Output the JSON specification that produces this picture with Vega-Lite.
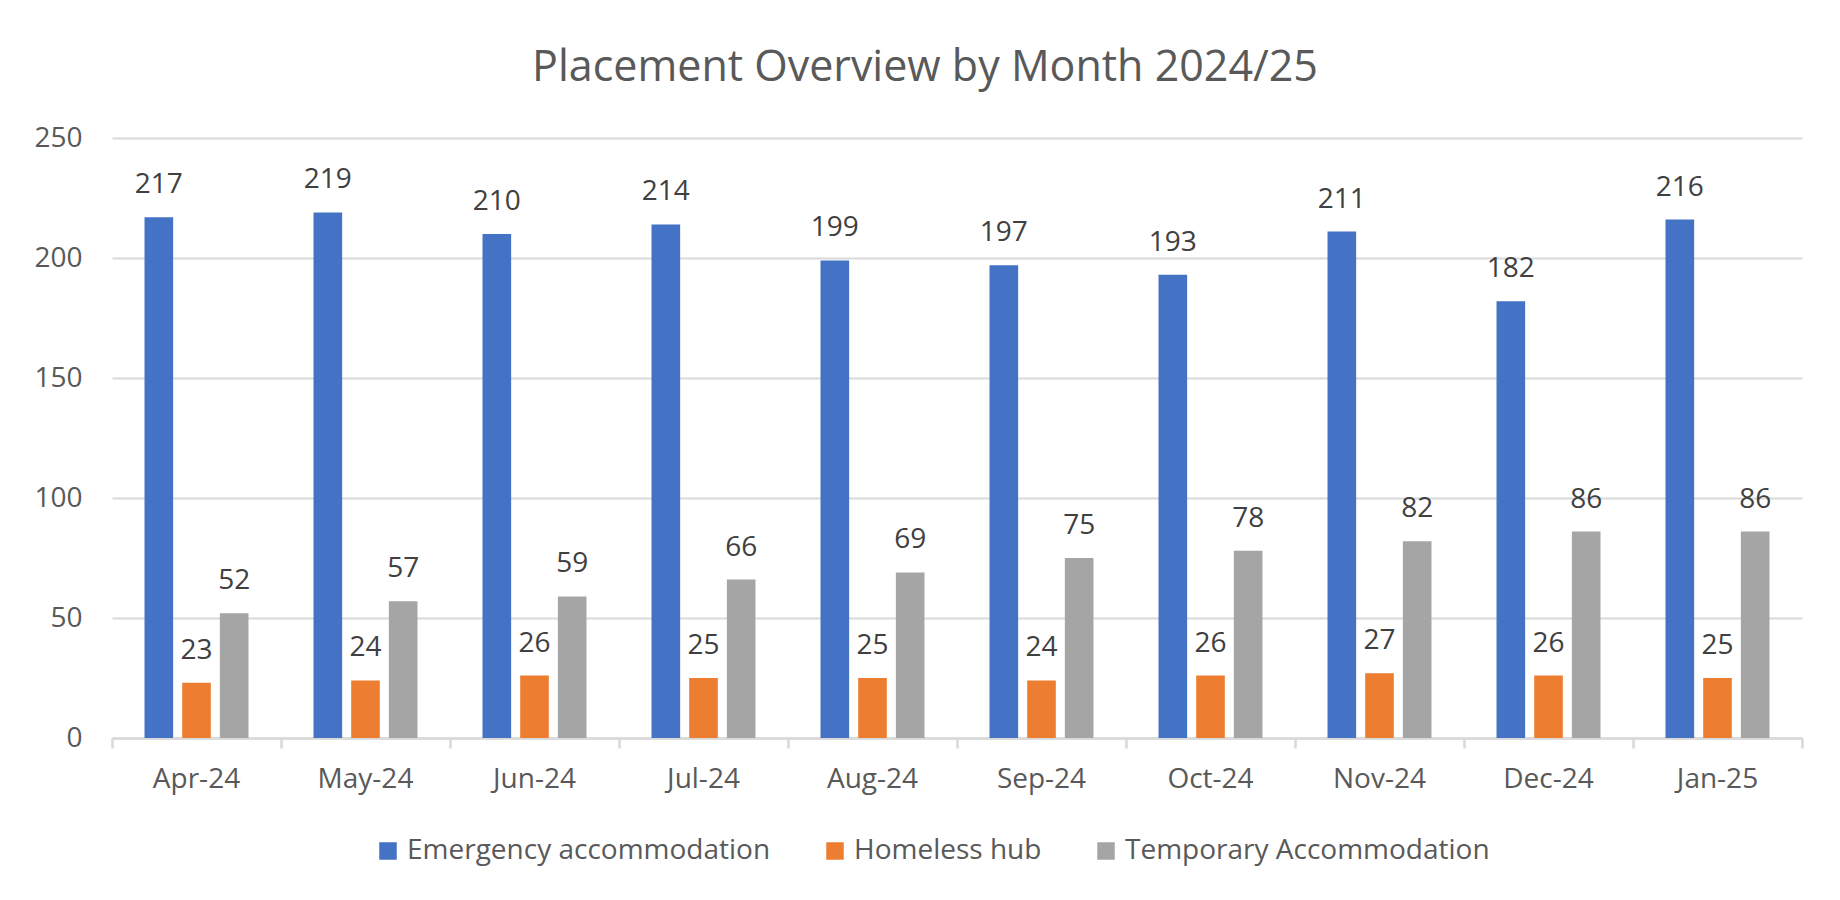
{
  "$schema": "https://vega.github.io/schema/vega-lite/v6.json",
  "width": 1690,
  "height": 600,
  "autosize": {"type": "none"},
  "padding": {"left": 112, "top": 138, "right": 38, "bottom": 162},
  "background": "white",
  "title": {
    "text": "Placement Overview by Month 2024/25",
    "font": "Open Sans",
    "fontSize": 43,
    "fontWeight": "normal",
    "color": "#595959",
    "anchor": "middle",
    "baseline": "alphabetic",
    "dx": -32,
    "offset": 0
  },
  "data": {
    "values": [
      {"month": "Apr-24", "series": "Emergency accommodation", "value": 217},
      {"month": "Apr-24", "series": "Homeless hub", "value": 23},
      {"month": "Apr-24", "series": "Temporary Accommodation", "value": 52},
      {"month": "May-24", "series": "Emergency accommodation", "value": 219},
      {"month": "May-24", "series": "Homeless hub", "value": 24},
      {"month": "May-24", "series": "Temporary Accommodation", "value": 57},
      {"month": "Jun-24", "series": "Emergency accommodation", "value": 210},
      {"month": "Jun-24", "series": "Homeless hub", "value": 26},
      {"month": "Jun-24", "series": "Temporary Accommodation", "value": 59},
      {"month": "Jul-24", "series": "Emergency accommodation", "value": 214},
      {"month": "Jul-24", "series": "Homeless hub", "value": 25},
      {"month": "Jul-24", "series": "Temporary Accommodation", "value": 66},
      {"month": "Aug-24", "series": "Emergency accommodation", "value": 199},
      {"month": "Aug-24", "series": "Homeless hub", "value": 25},
      {"month": "Aug-24", "series": "Temporary Accommodation", "value": 69},
      {"month": "Sep-24", "series": "Emergency accommodation", "value": 197},
      {"month": "Sep-24", "series": "Homeless hub", "value": 24},
      {"month": "Sep-24", "series": "Temporary Accommodation", "value": 75},
      {"month": "Oct-24", "series": "Emergency accommodation", "value": 193},
      {"month": "Oct-24", "series": "Homeless hub", "value": 26},
      {"month": "Oct-24", "series": "Temporary Accommodation", "value": 78},
      {"month": "Nov-24", "series": "Emergency accommodation", "value": 211},
      {"month": "Nov-24", "series": "Homeless hub", "value": 27},
      {"month": "Nov-24", "series": "Temporary Accommodation", "value": 82},
      {"month": "Dec-24", "series": "Emergency accommodation", "value": 182},
      {"month": "Dec-24", "series": "Homeless hub", "value": 26},
      {"month": "Dec-24", "series": "Temporary Accommodation", "value": 86},
      {"month": "Jan-25", "series": "Emergency accommodation", "value": 216},
      {"month": "Jan-25", "series": "Homeless hub", "value": 25},
      {"month": "Jan-25", "series": "Temporary Accommodation", "value": 86}
    ]
  },
  "encoding": {
    "x": {
      "field": "month",
      "type": "nominal",
      "sort": ["Apr-24", "May-24", "Jun-24", "Jul-24", "Aug-24", "Sep-24", "Oct-24", "Nov-24", "Dec-24", "Jan-25"],
      "scale": {"paddingInner": 0, "paddingOuter": 0},
      "axis": {
        "title": null,
        "labelAngle": 0,
        "labelFont": "Open Sans",
        "labelFontSize": 28,
        "labelColor": "#595959",
        "labelPadding": 17,
        "domainColor": "#d9d9d9",
        "domainWidth": 2.5,
        "tickColor": "#d9d9d9",
        "tickWidth": 2.5,
        "tickSize": 10,
        "bandPosition": 1,
        "tickExtra": true,
        "grid": false
      }
    },
    "xOffset": {
      "field": "series",
      "type": "nominal",
      "scale": {"paddingInner": 0.24, "paddingOuter": 0.863}
    },
    "y": {
      "field": "value",
      "type": "quantitative",
      "scale": {"domain": [0, 250], "nice": false},
      "axis": {
        "title": null,
        "values": [0, 50, 100, 150, 200, 250],
        "labelFont": "Open Sans",
        "labelFontSize": 28,
        "labelColor": "#595959",
        "labelPadding": 30,
        "ticks": false,
        "tickSize": 0,
        "domain": false,
        "grid": true,
        "gridColor": "#d9d9d9",
        "gridWidth": 2
      }
    }
  },
  "layer": [
    {
      "mark": {"type": "bar"},
      "encoding": {
        "color": {
          "field": "series",
          "type": "nominal",
          "scale": {
            "domain": ["Emergency accommodation", "Homeless hub", "Temporary Accommodation"],
            "range": ["#4472C4", "#ED7D31", "#A5A5A5"]
          },
          "legend": {
            "title": null,
            "orient": "none",
            "direction": "horizontal",
            "legendX": 262,
            "legendY": 699,
            "symbolType": "square",
            "symbolSize": 306,
            "symbolStrokeWidth": 0,
            "symbolOpacity": 1,
            "labelFont": "Open Sans",
            "labelFontSize": 28,
            "labelColor": "#595959",
            "labelOffset": 5,
            "labelLimit": 0,
            "columnPadding": 50
          }
        }
      }
    },
    {
      "mark": {
        "type": "text",
        "baseline": "alphabetic",
        "dy": -24,
        "font": "Open Sans",
        "fontSize": 28,
        "color": "#404040"
      },
      "encoding": {
        "text": {"field": "value", "type": "quantitative"}
      }
    }
  ],
  "config": {
    "view": {"stroke": null}
  }
}
